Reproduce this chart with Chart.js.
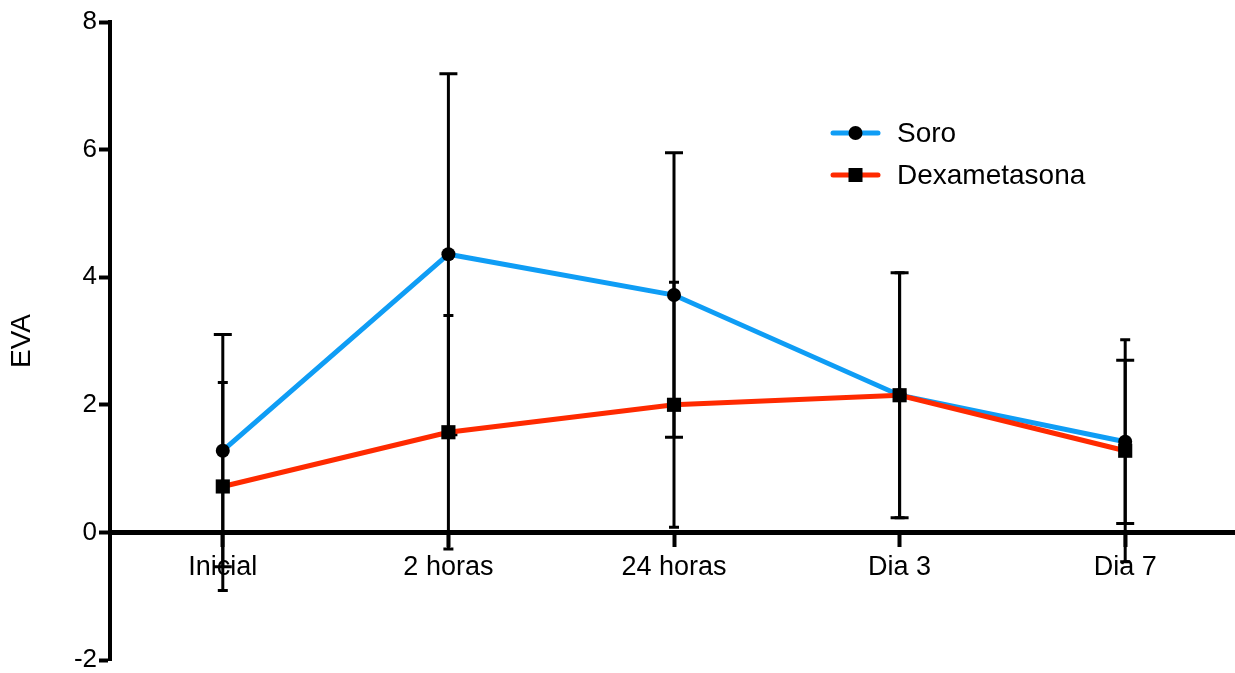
<!DOCTYPE html>
<html>
<head>
<meta charset="utf-8">
<script src="https://cdn.jsdelivr.net/npm/chart.js"></script>
<style>
  html, body { margin: 0; padding: 0; background: #fff; overflow: hidden; }
  canvas { display: block; }
</style>
</head>
<body>
<canvas id="myChart" width="1248" height="673"></canvas>
<script>
// datos -------------------------------------------------------------------------
const categorias = ['Inicial', '2 horas', '24 horas', 'Dia 3', 'Dia 7'];
const soroMedia = [1.28, 4.36, 3.72, 2.15, 1.42];
const soroDE = [1.82, 2.83, 2.23, 1.92, 1.28];
const dexaMedia = [0.72, 1.57, 2.00, 2.15, 1.28];
const dexaDE = [1.63, 1.83, 1.92, 1.92, 1.74];
const ticksY = [-2, 0, 2, 4, 6, 8];

const azul = '#0f9df5';
const rojo = '#ff2a00';
const fuente = 'Liberation Sans, Arial, Helvetica, sans-serif';

/* barras de error (media ± DE) --------------------------------------------------- */
const errorBars = {
    id: 'errorBars',
    beforeDatasetsDraw(chart) {
        const ctx = chart.ctx;
        const y = chart.scales.y;
        chart.data.datasets.forEach((ds, i) => {
            const meta = chart.getDatasetMeta(i);
            ctx.save();
            ctx.strokeStyle = '#000';
            ctx.lineWidth = 3;
            meta.data.forEach((pt, j) => {
                const top = y.getPixelForValue(ds.data[j] + ds.sd[j]);
                const bot = y.getPixelForValue(ds.data[j] - ds.sd[j]);
                const w = ds.capWidth / 2;
                ctx.beginPath();
                ctx.moveTo(pt.x, top);
                ctx.lineTo(pt.x, bot);
                ctx.moveTo(pt.x - w, top);
                ctx.lineTo(pt.x + w, top);
                ctx.moveTo(pt.x - w, bot);
                ctx.lineTo(pt.x + w, bot);
                ctx.stroke();
            });
            ctx.restore();
        });
    }
};

/* leyenda dentro del área ------------------------------------------------------- */
const leyenda = {
    id: 'leyenda',
    afterDraw(chart) {
        const ctx = chart.ctx;
        const x0 = 833, x1 = 878, xt = 897;
        const filas = [133, 175];
        chart.data.datasets.forEach((ds, i) => {
            const yy = filas[i];
            ctx.save();
            ctx.strokeStyle = ds.borderColor;
            ctx.lineWidth = 5;
            ctx.lineCap = 'round';
            ctx.beginPath();
            ctx.moveTo(x0, yy);
            ctx.lineTo(x1, yy);
            ctx.stroke();
            ctx.fillStyle = '#000';
            const xm = (x0 + x1) / 2;
            if (ds.pointStyle === 'rect') {
                ctx.fillRect(xm - 7, yy - 7, 14, 14);
            } else {
                ctx.beginPath();
                ctx.arc(xm, yy, 7, 0, Math.PI * 2);
                ctx.fill();
            }
            ctx.font = '28px ' + fuente;
            ctx.textBaseline = 'middle';
            ctx.fillText(ds.label, xt, yy + 1);
            ctx.restore();
        });
    }
};

const data = {
    labels: categorias,
    datasets: [{
        label: 'Soro',
        data: soroMedia,
        sd: soroDE,
        capWidth: 18,
        borderColor: azul,
        backgroundColor: '#000',
        borderWidth: 5,
        pointStyle: 'circle',
        pointRadius: 7,
        pointBackgroundColor: '#000',
        pointBorderWidth: 0,
        tension: 0,
        order: 1
    }, {
        label: 'Dexametasona',
        data: dexaMedia,
        sd: dexaDE,
        capWidth: 10,
        borderColor: rojo,
        backgroundColor: '#000',
        borderWidth: 5,
        pointStyle: 'rect',
        pointRadius: 10,
        pointBackgroundColor: '#000',
        pointBorderWidth: 0,
        tension: 0,
        order: 0
    }]
};

const config = {
    type: 'line',
    data: data,
    plugins: [errorBars, leyenda],
    options: {
        responsive: false,
        animation: false,
        layout: {
            padding: { left: 0, right: 0, top: 22, bottom: 13 }
        },
        plugins: {
            legend: { display: false },
            tooltip: { enabled: false }
        },
        scales: {
            x: {
                type: 'category',
                offset: true,
                position: { y: 0 },
                border: { display: true, color: '#000', width: 5 },
                grid: {
                    offset: false,
                    drawOnChartArea: false,
                    drawTicks: true,
                    tickLength: 12,
                    tickWidth: 4,
                    tickColor: '#000'
                },
                ticks: {
                    color: '#000',
                    padding: 7,
                    font: { family: fuente, size: 27 },
                    maxRotation: 0
                }
            },
            y: {
                min: ticksY[0],
                max: ticksY[ticksY.length - 1],
                afterBuildTicks(scale) {
                    scale.ticks = ticksY.map(v => ({ value: v }));
                },
                afterFit(scale) {
                    scale.width = 110;
                },
                border: { display: true, color: '#000', width: 4 },
                grid: {
                    drawOnChartArea: false,
                    drawTicks: true,
                    tickLength: 11,
                    tickWidth: 4,
                    tickColor: '#000'
                },
                ticks: {
                    color: '#000',
                    padding: 2,
                    font: { family: fuente, size: 26, lineHeight: 0.7 }
                },
                title: {
                    display: true,
                    text: 'EVA',
                    color: '#000',
                    padding: { top: 5, bottom: 0 },
                    font: { family: fuente, size: 28 }
                }
            }
        }
    }
};

const chartDOM = document.getElementById('myChart');
const myChart = new Chart(chartDOM, config);
</script>
</body>
</html>
